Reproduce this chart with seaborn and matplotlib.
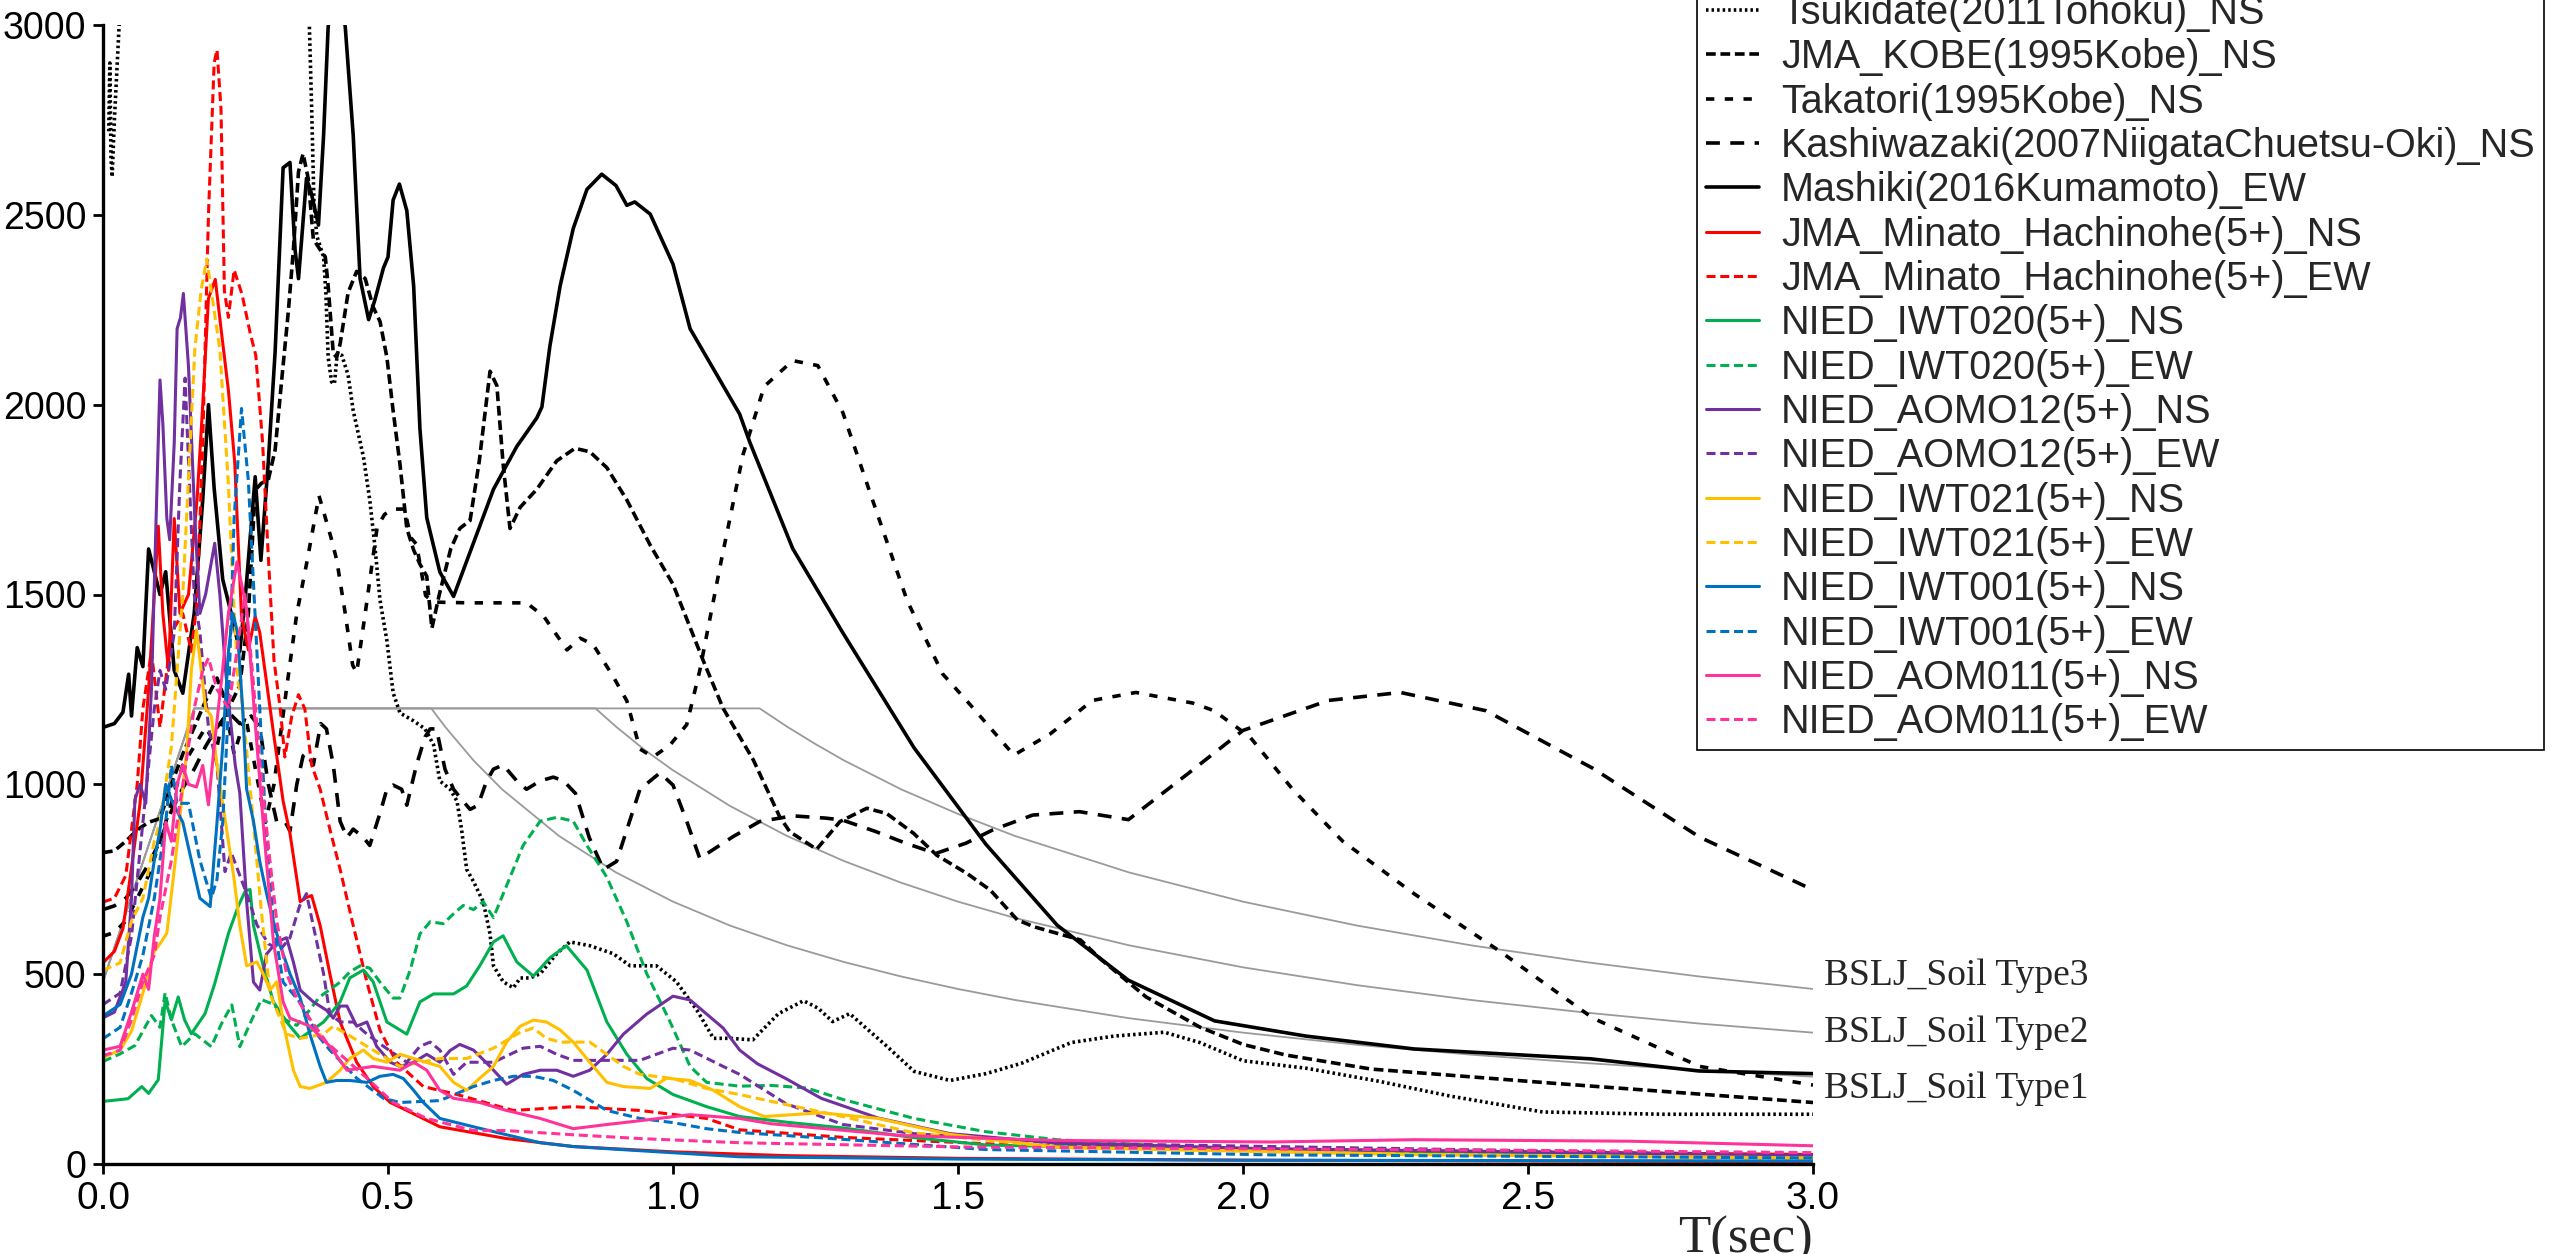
import matplotlib
matplotlib.use("Agg")
import matplotlib.pyplot as plt
import seaborn as sns

# ---------------- data: (T [s], Sa [gal]) ----------------
tsukidate_ns = [(0.01, 2720), (0.012, 2900), (0.014, 2650), (0.016, 2600), (0.02, 2750), (0.03, 3050),
    (0.05, 3600), (0.1, 4500), (0.2, 5000), (0.3, 4000), (0.35, 3300), (0.362, 3000), (0.366, 2784),
    (0.37, 2539), (0.375, 2445), (0.381, 2417), (0.387, 2389), (0.391, 2295), (0.395, 2125), (0.401, 2060),
    (0.406, 2055), (0.411, 2135), (0.419, 2130), (0.43, 2078), (0.439, 1984), (0.457, 1862), (0.468, 1749),
    (0.477, 1627), (0.486, 1485), (0.498, 1379), (0.509, 1241), (0.521, 1188), (0.545, 1167), (0.565, 1146),
    (0.58, 1104), (0.591, 1009), (0.609, 987), (0.621, 956), (0.629, 882), (0.638, 776), (0.65, 744),
    (0.667, 691), (0.679, 606), (0.685, 522), (0.702, 480), (0.72, 464), (0.732, 490), (0.749, 490),
    (0.767, 501), (0.796, 554), (0.819, 585), (0.854, 575), (0.895, 554), (0.925, 522), (0.971, 522),
    (1.006, 480), (1.042, 405), (1.071, 331), (1.1, 331), (1.14, 327), (1.185, 396), (1.229, 430),
    (1.255, 410), (1.28, 375), (1.31, 396), (1.373, 313), (1.423, 244), (1.486, 220), (1.549, 238),
    (1.611, 265), (1.699, 320), (1.774, 337), (1.862, 347), (1.924, 320), (2.0, 272), (2.112, 252),
    (2.238, 218), (2.363, 179), (2.526, 137), (2.739, 131), (3.0, 131)]

jma_kobe_ns = [(0.0, 820), (0.02, 825), (0.04, 850), (0.06, 880), (0.08, 900), (0.1, 910), (0.12, 1000),
    (0.14, 1080), (0.16, 1150), (0.18, 1220), (0.2, 1280), (0.22, 1200), (0.24, 1260), (0.255, 1450),
    (0.267, 1775), (0.278, 1793), (0.29, 1802), (0.302, 1881), (0.313, 2057), (0.325, 2243), (0.334, 2408),
    (0.343, 2614), (0.351, 2661), (0.36, 2596), (0.369, 2436), (0.381, 2408), (0.39, 2389), (0.395, 2313),
    (0.404, 2135), (0.41, 2125), (0.416, 2160), (0.43, 2295), (0.445, 2351), (0.46, 2332), (0.474, 2257),
    (0.486, 2219), (0.498, 2125), (0.509, 1984), (0.521, 1843), (0.533, 1674), (0.545, 1617), (0.556, 1580),
    (0.568, 1548), (0.577, 1411), (0.59, 1500), (0.61, 1620), (0.626, 1674), (0.644, 1695), (0.66, 1850),
    (0.679, 2088), (0.691, 2050), (0.702, 1843), (0.714, 1674), (0.732, 1730), (0.761, 1777), (0.796, 1852),
    (0.828, 1885), (0.854, 1876), (0.884, 1834), (0.919, 1749), (0.96, 1630), (1.0, 1527), (1.053, 1326),
    (1.088, 1200), (1.141, 1064), (1.187, 915), (1.205, 875), (1.252, 829), (1.293, 902), (1.34, 937),
    (1.375, 923), (1.422, 871), (1.463, 813), (1.516, 765), (1.557, 721), (1.604, 643), (1.633, 625),
    (1.715, 590), (1.75, 540), (1.83, 440), (1.925, 360), (2.0, 315), (2.075, 287), (2.225, 250),
    (2.55, 212), (3.0, 162)]

takatori_ns = [(0.0, 600), (0.02, 610), (0.04, 640), (0.06, 700), (0.08, 760), (0.1, 850), (0.12, 950),
    (0.14, 1050), (0.16, 1100), (0.18, 1150), (0.2, 1100), (0.215, 1200), (0.23, 1080), (0.25, 1180),
    (0.27, 1020), (0.285, 900), (0.3, 1000), (0.322, 1252), (0.34, 1450), (0.357, 1580), (0.379, 1760),
    (0.4, 1650), (0.41, 1591), (0.425, 1450), (0.438, 1314), (0.445, 1294), (0.46, 1450), (0.481, 1678),
    (0.494, 1711), (0.508, 1725), (0.529, 1725), (0.54, 1650), (0.55, 1632), (0.566, 1497), (0.58, 1480),
    (0.642, 1478), (0.743, 1478), (0.773, 1443), (0.814, 1354), (0.837, 1385), (0.86, 1368), (0.895, 1284),
    (0.919, 1220), (0.942, 1093), (0.965, 1072), (0.995, 1104), (1.024, 1157), (1.047, 1300), (1.085, 1592),
    (1.123, 1869), (1.16, 2048), (1.21, 2116), (1.254, 2103), (1.298, 1979), (1.348, 1758), (1.411, 1483),
    (1.473, 1291), (1.523, 1207), (1.598, 1077), (1.661, 1132), (1.736, 1221), (1.812, 1242), (1.912, 1214),
    (1.949, 1194), (2.012, 1125), (2.087, 987), (2.175, 850), (2.3, 712), (2.451, 560), (2.614, 384),
    (2.801, 257), (3.0, 208)]

kashiwazaki_ns = [(0.0, 670), (0.02, 680), (0.04, 700), (0.06, 740), (0.08, 790), (0.1, 850), (0.12, 930),
    (0.14, 990), (0.16, 1040), (0.18, 1100), (0.2, 1150), (0.22, 1190), (0.24, 1160), (0.26, 1180),
    (0.275, 1150), (0.29, 1000), (0.305, 900), (0.32, 900), (0.328, 877), (0.34, 1000), (0.351, 1075),
    (0.357, 1083), (0.369, 1051), (0.382, 1160), (0.392, 1146), (0.404, 1051), (0.416, 903), (0.428, 860),
    (0.439, 882), (0.457, 860), (0.468, 839), (0.486, 924), (0.498, 987), (0.509, 998), (0.524, 987),
    (0.533, 945), (0.55, 1051), (0.565, 1125), (0.574, 1146), (0.585, 1146), (0.6, 1040), (0.615, 987),
    (0.626, 966), (0.644, 934), (0.658, 945), (0.673, 1009), (0.685, 1040), (0.702, 1051), (0.726, 1009),
    (0.743, 987), (0.767, 1009), (0.79, 1019), (0.808, 1009), (0.829, 976), (0.853, 860), (0.878, 776),
    (0.901, 797), (0.942, 987), (0.977, 1030), (1.0, 998), (1.024, 903), (1.047, 805), (1.105, 862),
    (1.152, 902), (1.21, 917), (1.268, 911), (1.297, 906), (1.355, 876), (1.408, 845), (1.461, 818),
    (1.514, 845), (1.561, 880), (1.631, 919), (1.713, 928), (1.799, 907), (1.899, 1023), (2.0, 1142),
    (2.15, 1221), (2.276, 1242), (2.426, 1194), (2.614, 1042), (2.801, 861), (3.0, 722)]

mashiki_ew = [(0.0, 1150), (0.02, 1160), (0.035, 1190), (0.045, 1290), (0.05, 1180), (0.06, 1360),
    (0.07, 1310), (0.08, 1620), (0.09, 1560), (0.1, 1500), (0.11, 1560), (0.125, 1300), (0.14, 1240),
    (0.16, 1450), (0.175, 1750), (0.185, 2000), (0.195, 1780), (0.21, 1540), (0.225, 1450), (0.24, 1350),
    (0.25, 1500), (0.267, 1810), (0.277, 1590), (0.29, 1850), (0.302, 2140), (0.316, 2624), (0.328, 2638),
    (0.337, 2407), (0.343, 2332), (0.357, 2596), (0.365, 2560), (0.378, 2473), (0.387, 2709), (0.395, 2995),
    (0.41, 3150), (0.425, 2995), (0.439, 2709), (0.451, 2332), (0.466, 2224), (0.477, 2276), (0.492, 2360),
    (0.5, 2389), (0.509, 2539), (0.52, 2581), (0.533, 2511), (0.545, 2313), (0.556, 1937), (0.568, 1702),
    (0.591, 1559), (0.615, 1495), (0.65, 1636), (0.685, 1777), (0.726, 1890), (0.761, 1965), (0.77, 1994),
    (0.784, 2154), (0.802, 2313), (0.825, 2464), (0.849, 2567), (0.875, 2607), (0.9, 2577), (0.919, 2525),
    (0.933, 2534), (0.96, 2502), (1.0, 2370), (1.03, 2200), (1.059, 2125), (1.117, 1975), (1.135, 1900),
    (1.21, 1621), (1.298, 1399), (1.423, 1096), (1.549, 842), (1.674, 629), (1.799, 484), (1.95, 377),
    (2.11, 337), (2.3, 303), (2.61, 277), (2.8, 245), (3.0, 238)]

minato_ns = [(0.0, 530), (0.02, 560), (0.035, 620), (0.05, 780), (0.065, 950), (0.08, 1250), (0.097, 1680),
    (0.105, 1450), (0.115, 1300), (0.125, 1700), (0.135, 1450), (0.15, 1500), (0.165, 1750), (0.175, 2000),
    (0.185, 2280), (0.197, 2330), (0.208, 2188), (0.22, 2038), (0.231, 1850), (0.243, 1442), (0.255, 1354),
    (0.267, 1442), (0.275, 1400), (0.299, 1136), (0.316, 956), (0.328, 871), (0.346, 691), (0.357, 702),
    (0.366, 707), (0.381, 628), (0.398, 501), (0.416, 374), (0.445, 268), (0.474, 204), (0.504, 162),
    (0.533, 141), (0.591, 98), (0.708, 67), (0.825, 46), (1.0, 32), (1.2, 22), (1.5, 15), (2.0, 10), (3.0, 6)]

minato_ew = [(0.0, 690), (0.02, 700), (0.04, 760), (0.06, 1000), (0.07, 1200), (0.085, 1350), (0.1, 1150),
    (0.12, 1400), (0.14, 1450), (0.155, 1350), (0.165, 1480), (0.175, 1900), (0.185, 2500), (0.195, 2900),
    (0.2, 2935), (0.207, 2780), (0.213, 2300), (0.22, 2230), (0.23, 2355), (0.244, 2290), (0.258, 2190),
    (0.268, 2130), (0.28, 1900), (0.29, 1600), (0.3, 1326), (0.311, 1199), (0.319, 1072), (0.331, 1178),
    (0.343, 1236), (0.354, 1199), (0.366, 1051), (0.381, 987), (0.398, 882), (0.416, 776), (0.439, 628),
    (0.463, 479), (0.486, 352), (0.515, 268), (0.562, 204), (0.621, 183), (0.72, 141), (0.825, 151),
    (0.942, 141), (1.059, 120), (1.117, 90), (1.3, 70), (1.6, 50), (2.0, 40), (2.5, 32), (3.0, 25)]

iwt020_ns = [(0.0, 165), (0.02, 168), (0.044, 172), (0.068, 204), (0.08, 186), (0.097, 222), (0.109, 430),
    (0.12, 380), (0.132, 440), (0.143, 380), (0.155, 343), (0.179, 396), (0.196, 475), (0.22, 607),
    (0.237, 678), (0.25, 720), (0.258, 723), (0.264, 628), (0.281, 522), (0.299, 427), (0.322, 374),
    (0.346, 331), (0.387, 374), (0.416, 427), (0.433, 490), (0.457, 511), (0.474, 480), (0.498, 374),
    (0.533, 342), (0.556, 427), (0.58, 448), (0.615, 448), (0.638, 469), (0.661, 522), (0.685, 585),
    (0.702, 601), (0.726, 532), (0.755, 495), (0.784, 543), (0.813, 575), (0.849, 511), (0.884, 374),
    (0.919, 289), (0.954, 225), (1.0, 183), (1.059, 151), (1.117, 125), (1.2, 110), (1.298, 95),
    (1.42, 70), (1.55, 50), (1.8, 42), (2.05, 38), (2.5, 30), (3.0, 18)]

iwt020_ew = [(0.0, 270), (0.03, 290), (0.056, 312), (0.085, 391), (0.1, 360), (0.109, 451), (0.12, 380),
    (0.138, 309), (0.161, 343), (0.19, 309), (0.208, 370), (0.226, 419), (0.24, 309), (0.261, 380),
    (0.278, 433), (0.3, 420), (0.32, 380), (0.34, 365), (0.357, 395), (0.38, 440), (0.416, 479),
    (0.433, 506), (0.451, 522), (0.468, 516), (0.486, 479), (0.509, 437), (0.521, 437), (0.539, 511),
    (0.556, 606), (0.574, 638), (0.597, 633), (0.615, 659), (0.632, 681), (0.65, 670), (0.667, 691),
    (0.685, 649), (0.708, 733), (0.737, 839), (0.767, 903), (0.796, 913), (0.825, 903), (0.849, 839),
    (0.884, 755), (0.919, 638), (0.954, 501), (0.995, 374), (1.03, 257), (1.059, 215), (1.117, 205),
    (1.172, 207), (1.235, 200), (1.298, 170), (1.423, 120), (1.549, 85), (1.674, 64), (1.924, 42),
    (2.3, 32), (3.0, 20)]

aomo12_ns = [(0.0, 385), (0.02, 400), (0.04, 480), (0.05, 700), (0.056, 960), (0.065, 1000), (0.075, 950),
    (0.085, 1250), (0.095, 1800), (0.1, 2065), (0.105, 1950), (0.112, 1700), (0.117, 1644), (0.125, 1900),
    (0.13, 2200), (0.136, 2230), (0.141, 2293), (0.15, 2100), (0.161, 1705), (0.17, 1450), (0.18, 1500),
    (0.196, 1635), (0.205, 1500), (0.215, 1300), (0.225, 1150), (0.232, 1050), (0.24, 977), (0.252, 691),
    (0.264, 479), (0.275, 458), (0.287, 553), (0.305, 585), (0.322, 596), (0.334, 532), (0.346, 458),
    (0.369, 427), (0.392, 405), (0.404, 384), (0.416, 416), (0.428, 416), (0.445, 363), (0.463, 374),
    (0.48, 310), (0.504, 268), (0.521, 257), (0.545, 268), (0.568, 289), (0.591, 268), (0.609, 299),
    (0.626, 315), (0.65, 300), (0.679, 257), (0.708, 210), (0.737, 236), (0.767, 247), (0.796, 247),
    (0.825, 231), (0.854, 247), (0.884, 289), (0.913, 342), (0.954, 395), (1.0, 442), (1.03, 432),
    (1.059, 395), (1.088, 358), (1.117, 300), (1.148, 264), (1.198, 225), (1.26, 173), (1.36, 121),
    (1.486, 80), (1.674, 55), (2.05, 40), (3.0, 22)]

aomo12_ew = [(0.0, 420), (0.03, 450), (0.05, 600), (0.07, 900), (0.09, 1200), (0.1, 1300), (0.11, 1250),
    (0.125, 1400), (0.135, 1800), (0.144, 2070), (0.15, 1850), (0.16, 1500), (0.17, 1400), (0.185, 1150),
    (0.2, 1050), (0.214, 770), (0.225, 820), (0.24, 760), (0.255, 700), (0.27, 630), (0.29, 580),
    (0.311, 564), (0.328, 596), (0.345, 680), (0.357, 712), (0.37, 620), (0.387, 501), (0.398, 395),
    (0.416, 374), (0.439, 374), (0.463, 342), (0.492, 310), (0.533, 268), (0.556, 310), (0.574, 321),
    (0.591, 300), (0.615, 236), (0.638, 268), (0.685, 268), (0.737, 305), (0.767, 310), (0.796, 289),
    (0.825, 273), (0.884, 273), (0.942, 273), (1.0, 305), (1.03, 300), (1.088, 257), (1.117, 236),
    (1.198, 159), (1.298, 104), (1.423, 80), (1.674, 55), (2.3, 40), (3.0, 22)]

iwt021_ns = [(0.0, 280), (0.03, 300), (0.05, 350), (0.07, 450), (0.09, 560), (0.1, 580), (0.112, 608),
    (0.129, 827), (0.147, 1090), (0.155, 1300), (0.164, 1407), (0.17, 1330), (0.18, 1200), (0.19, 1180),
    (0.2, 1050), (0.21, 950), (0.22, 850), (0.23, 750), (0.24, 628), (0.252, 522), (0.27, 532), (0.281, 501),
    (0.293, 458), (0.305, 480), (0.316, 374), (0.334, 247), (0.346, 204), (0.363, 199), (0.392, 215),
    (0.416, 247), (0.433, 278), (0.457, 300), (0.474, 278), (0.498, 268), (0.521, 289), (0.545, 278),
    (0.591, 257), (0.615, 215), (0.638, 194), (0.661, 226), (0.685, 257), (0.708, 321), (0.732, 363),
    (0.755, 379), (0.778, 374), (0.802, 353), (0.825, 321), (0.854, 268), (0.884, 215), (0.913, 204),
    (0.96, 199), (0.989, 226), (1.03, 220), (1.071, 194), (1.117, 151), (1.16, 125), (1.26, 135),
    (1.36, 120), (1.486, 78), (1.674, 44), (2.3, 25), (3.0, 16)]

iwt021_ew = [(0.0, 510), (0.03, 530), (0.05, 640), (0.07, 700), (0.09, 850), (0.1, 900), (0.12, 1100),
    (0.14, 1500), (0.161, 2144), (0.172, 2300), (0.182, 2384), (0.19, 2300), (0.205, 2144), (0.22, 1790),
    (0.228, 1520), (0.237, 1266), (0.243, 1229), (0.261, 945), (0.278, 663), (0.293, 448), (0.322, 342),
    (0.346, 331), (0.387, 342), (0.404, 363), (0.428, 342), (0.474, 300), (0.521, 257), (0.591, 278),
    (0.638, 278), (0.685, 305), (0.732, 347), (0.755, 358), (0.778, 331), (0.802, 321), (0.854, 321),
    (0.884, 289), (0.913, 257), (0.942, 236), (1.0, 225), (1.059, 199), (1.117, 183), (1.172, 165),
    (1.298, 125), (1.423, 82), (1.674, 44), (2.3, 25), (3.0, 15)]

iwt001_ns = [(0.0, 390), (0.03, 420), (0.05, 500), (0.07, 650), (0.08, 700), (0.09, 800), (0.1, 880),
    (0.11, 1000), (0.12, 960), (0.126, 941), (0.14, 900), (0.155, 800), (0.17, 700), (0.188, 678),
    (0.2, 900), (0.21, 1100), (0.22, 1350), (0.228, 1450), (0.236, 1400), (0.245, 1200), (0.252, 987),
    (0.264, 903), (0.275, 797), (0.287, 712), (0.299, 638), (0.311, 575), (0.328, 501), (0.346, 437),
    (0.363, 342), (0.381, 257), (0.392, 215), (0.41, 220), (0.433, 220), (0.463, 215), (0.486, 231),
    (0.509, 236), (0.527, 225), (0.545, 194), (0.562, 162), (0.591, 120), (0.65, 98), (0.708, 77),
    (0.767, 56), (0.825, 46), (0.942, 35), (1.117, 19), (1.5, 13), (2.0, 10), (3.0, 8)]

iwt001_ew = [(0.0, 330), (0.03, 360), (0.05, 450), (0.07, 550), (0.09, 700), (0.1, 800), (0.11, 900),
    (0.12, 1050), (0.13, 950), (0.15, 950), (0.17, 800), (0.19, 700), (0.2, 750), (0.21, 900), (0.22, 1200),
    (0.23, 1700), (0.243, 1990), (0.255, 1800), (0.264, 1530), (0.275, 1200), (0.287, 850), (0.299, 638),
    (0.316, 479), (0.351, 416), (0.375, 342), (0.398, 300), (0.445, 226), (0.492, 173), (0.521, 162),
    (0.591, 167), (0.65, 204), (0.685, 220), (0.72, 231), (0.755, 231), (0.79, 220), (0.825, 194),
    (0.884, 141), (0.942, 120), (1.0, 109), (1.059, 93), (1.117, 83), (1.298, 65), (1.549, 38),
    (2.05, 24), (3.0, 16)]

aom011_ns = [(0.0, 300), (0.03, 310), (0.05, 400), (0.07, 500), (0.08, 460), (0.09, 600), (0.1, 700),
    (0.11, 900), (0.12, 850), (0.13, 1000), (0.14, 1050), (0.15, 1000), (0.164, 993), (0.175, 1050),
    (0.185, 946), (0.195, 1100), (0.208, 1275), (0.22, 1450), (0.235, 1586), (0.252, 1463), (0.265, 1200),
    (0.281, 898), (0.299, 585), (0.316, 427), (0.328, 384), (0.363, 363), (0.398, 310), (0.428, 247),
    (0.474, 257), (0.521, 247), (0.545, 268), (0.568, 247), (0.591, 194), (0.615, 173), (0.661, 162),
    (0.708, 141), (0.767, 120), (0.825, 93), (0.884, 104), (0.942, 114), (1.03, 130), (1.117, 120),
    (1.172, 106), (1.4, 75), (1.674, 62), (2.05, 58), (2.3, 64), (2.68, 60), (3.0, 48)]

aom011_ew = [(0.0, 285), (0.03, 300), (0.05, 380), (0.07, 480), (0.09, 550), (0.1, 650), (0.12, 800),
    (0.14, 1000), (0.16, 1200), (0.175, 1300), (0.185, 1333), (0.2, 1250), (0.22, 1200), (0.235, 1350),
    (0.249, 1500), (0.262, 1300), (0.275, 1062), (0.293, 797), (0.305, 638), (0.322, 501), (0.34, 437),
    (0.357, 395), (0.392, 321), (0.416, 289), (0.463, 226), (0.509, 162), (0.568, 120), (0.65, 88),
    (0.708, 88), (0.825, 77), (0.942, 67), (1.117, 56), (1.5, 45), (2.0, 40), (2.5, 36), (3.0, 30)]

bslj_type1 = [(0.0, 480), (0.16, 1200), (0.576, 1200), (0.6, 1152), (0.65, 1063), (0.7, 987), (0.8, 864),
    (0.9, 768), (1.0, 691), (1.1, 628), (1.2, 576), (1.3, 532), (1.4, 494), (1.5, 461), (1.6, 432),
    (1.8, 384), (2.0, 346), (2.2, 314), (2.4, 288), (2.6, 266), (2.8, 247), (3.0, 230)]
bslj_type2 = [(0.0, 480), (0.16, 1200), (0.864, 1200), (0.9, 1152), (0.95, 1091), (1.0, 1037), (1.1, 943),
    (1.2, 864), (1.3, 798), (1.4, 741), (1.5, 691), (1.6, 648), (1.8, 576), (2.0, 518), (2.2, 471),
    (2.4, 432), (2.6, 399), (2.8, 370), (3.0, 346)]
bslj_type3 = [(0.0, 480), (0.16, 1200), (1.152, 1200), (1.2, 1152), (1.25, 1106), (1.3, 1063), (1.4, 987),
    (1.5, 922), (1.6, 864), (1.8, 768), (2.0, 691), (2.2, 628), (2.4, 576), (2.6, 532), (2.8, 494),
    (3.0, 461)]

bslj_labels = ["BSLJ_Soil Type3", "BSLJ_Soil Type2", "BSLJ_Soil Type1"]
bslj_label_y = [495, 345, 198]

x_ticks = [0.0, 0.5, 1.0, 1.5, 2.0, 2.5, 3.0]
y_ticks = [0, 500, 1000, 1500, 2000, 2500, 3000]

# ---------------- styling ----------------
BLACK = "#000000"
RED = "#FF0000"
GREEN = "#00B050"
PURPLE = "#7030A0"
YELLOW = "#FFC000"
BLUE = "#0070C0"
PINK = "#FF3399"
GRAY = "#9A9A9A"

DOT = (0, (1.8, 2.2))
KOBE = (0, (7.0, 3.4))
TAKA = (0, (6.0, 7.5))
KASH = (0, (10.0, 7.5))
SOLID = "-"
DASH = (0, (6.5, 3.4))

BLW = 2.6
CLW = 2.2

series = [
    ("Tsukidate(2011Tohoku)_NS", tsukidate_ns, BLACK, DOT, BLW),
    ("JMA_KOBE(1995Kobe)_NS", jma_kobe_ns, BLACK, KOBE, BLW),
    ("Takatori(1995Kobe)_NS", takatori_ns, BLACK, TAKA, BLW),
    ("Kashiwazaki(2007NiigataChuetsu-Oki)_NS", kashiwazaki_ns, BLACK, KASH, BLW),
    ("Mashiki(2016Kumamoto)_EW", mashiki_ew, BLACK, SOLID, BLW),
    ("JMA_Minato_Hachinohe(5+)_NS", minato_ns, RED, SOLID, CLW),
    ("JMA_Minato_Hachinohe(5+)_EW", minato_ew, RED, DASH, CLW),
    ("NIED_IWT020(5+)_NS", iwt020_ns, GREEN, SOLID, CLW),
    ("NIED_IWT020(5+)_EW", iwt020_ew, GREEN, DASH, CLW),
    ("NIED_AOMO12(5+)_NS", aomo12_ns, PURPLE, SOLID, CLW),
    ("NIED_AOMO12(5+)_EW", aomo12_ew, PURPLE, DASH, CLW),
    ("NIED_IWT021(5+)_NS", iwt021_ns, YELLOW, SOLID, CLW),
    ("NIED_IWT021(5+)_EW", iwt021_ew, YELLOW, DASH, CLW),
    ("NIED_IWT001(5+)_NS", iwt001_ns, BLUE, SOLID, CLW),
    ("NIED_IWT001(5+)_EW", iwt001_ew, BLUE, DASH, CLW),
    ("NIED_AOM011(5+)_NS", aom011_ns, PINK, SOLID, CLW),
    ("NIED_AOM011(5+)_EW", aom011_ew, PINK, DASH, CLW),
]

sns.set_style("ticks")
plt.rcParams["font.family"] = ["Liberation Sans", "DejaVu Sans"]
plt.rcParams["lines.scale_dashes"] = False
plt.rcParams["lines.dash_capstyle"] = "butt"

W, H = 2560, 1254
fig = plt.figure(figsize=(W / 100, H / 100), dpi=100)
ax = fig.add_axes([103 / W, 90 / H, 1710 / W, 1139 / H])

for pts in (bslj_type1, bslj_type2, bslj_type3):
    t, s = zip(*pts)
    sns.lineplot(x=list(t), y=list(s), ax=ax, color=GRAY, linewidth=1.3,
                 estimator=None, errorbar=None, legend=False)

handles = []
for name, pts, col, ls, lw in series:
    t, s = zip(*pts)
    sns.lineplot(x=list(t), y=list(s), ax=ax, color=col, linewidth=lw, linestyle=ls,
                 estimator=None, errorbar=None, legend=False)
    line = ax.lines[-1]
    line.set_linestyle(ls)
    handles.append(line)

ax.set_xlim(0, 3.0)
ax.set_ylim(0, 3000)
ax.set_xticks(x_ticks)
ax.set_xticklabels([f"{v:.1f}" for v in x_ticks])
ax.set_yticks(y_ticks)
ax.set_yticklabels([str(v) for v in y_ticks])
ax.set_xlabel("")
ax.set_ylabel("")
for side in ("top", "right"):
    ax.spines[side].set_visible(False)
for side in ("left", "bottom"):
    ax.spines[side].set_linewidth(2.4)
    ax.spines[side].set_color("black")
ax.tick_params(axis="both", direction="out", length=7, width=2, colors="black",
               labelsize=27, pad=5)
ax.tick_params(axis="x", labelsize=28)
ax.grid(False)

for lab, yv in zip(bslj_labels, bslj_label_y):
    ax.text(3.02, yv, lab, family=["Liberation Serif", "DejaVu Serif"], fontsize=27,
            ha="left", va="center", clip_on=False)

fig.text(1813 / W, 1 - 1216 / H, "T(sec)", family=["Liberation Serif", "DejaVu Serif"],
         fontsize=38, ha="right", va="top")

leg = ax.legend(handles, [s[0] for s in series], loc="lower left",
                bbox_to_anchor=(1697 / W, 1 - 750 / H), bbox_transform=fig.transFigure,
                borderaxespad=0, fontsize=28.5, frameon=True, fancybox=False, shadow=False,
                framealpha=1, edgecolor="black", handlelength=1.35, handletextpad=0.55,
                borderpad=0.22, labelspacing=0.16)
leg.get_frame().set_linewidth(1.2)

fig.savefig("out.png", dpi=100)
